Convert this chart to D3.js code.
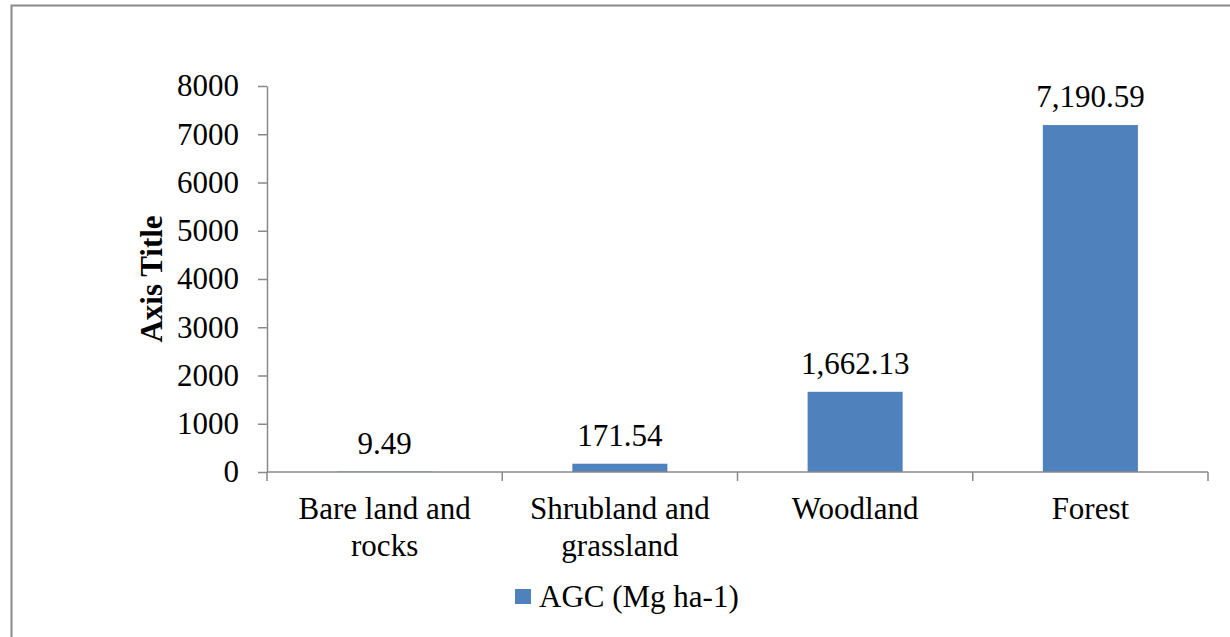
<!DOCTYPE html>
<html>
<head>
<meta charset="utf-8">
<script src="https://cdn.jsdelivr.net/npm/d3@7"></script>
<style>
    body { margin: 0; background: #fff; }
    svg text { font-family: "Liberation Serif", "Times New Roman", serif; fill: #000; }
</style>
</head>
<body>
<svg id="chart"></svg>
<script>
// chart data
const categories = [['Bare land and', 'rocks'], ['Shrubland and', 'grassland'], ['Woodland'], ['Forest']];
const agcValues = [9.49, 171.54, 1662.13, 7190.59];
const valueLabels = ['9.49', '171.54', '1,662.13', '7,190.59'];
const yTicks = [0, 1000, 2000, 3000, 4000, 5000, 6000, 7000, 8000];
const seriesName = 'AGC (Mg ha-1)';

const width = 1230, height = 637;
const margin = { top: 86, right: 22, bottom: 165, left: 267 };
const axisColor = '#898989';
const barColor = '#4f81bd';

const svg = d3.select('#chart')
    .attr('width', width)
    .attr('height', height);

// outer frame (runs off the page on right and bottom)
svg.append('rect')
    .attr('x', 11.5)
    .attr('y', 5.5)
    .attr('width', width + 20)
    .attr('height', height + 20)
    .attr('fill', 'none')
    .attr('stroke', axisColor)
    .attr('stroke-width', 2);

const xScale = d3.scaleBand()
    .domain(d3.range(categories.length))
    .range([margin.left, width - margin.right])
    .padding(0);

const yScale = d3.scaleLinear()
    .domain([0, 8000])
    .range([height - margin.bottom, margin.top]);

const y0 = yScale(0);

// y axis
const yAxis = d3.axisLeft(yScale)
    .tickValues(yTicks)
    .tickFormat(d3.format('d'))
    .tickSize(9)
    .tickPadding(19)
    .tickSizeOuter(0);

const yAxisGroup = svg.append('g')
    .attr('transform', `translate(${margin.left},0)`)
    .call(yAxis);
yAxisGroup.select('.domain').attr('stroke', axisColor).attr('stroke-width', 1.5);
yAxisGroup.selectAll('.tick line').attr('stroke', axisColor).attr('stroke-width', 1.5);
yAxisGroup.selectAll('.tick text')
    .attr('font-size', 31)
    .attr('font-family', '"Liberation Serif", serif')
    .attr('fill', '#000');

// bars
const barWidth = xScale.bandwidth() * 0.404;
svg.selectAll('rect.bar')
    .data(agcValues)
    .enter()
    .append('rect')
    .attr('class', 'bar')
    .attr('x', (d, i) => xScale(i) + xScale.bandwidth() / 2 - barWidth / 2)
    .attr('y', d => yScale(d))
    .attr('width', barWidth)
    .attr('height', d => y0 - yScale(d))
    .attr('fill', barColor);

// x axis line and category ticks (at band edges)
svg.append('line')
    .attr('x1', xScale.range()[0])
    .attr('x2', xScale.range()[1])
    .attr('y1', y0)
    .attr('y2', y0)
    .attr('stroke', axisColor)
    .attr('stroke-width', 1.5);

const edges = d3.range(categories.length).map(i => xScale(i)).concat([xScale.range()[1]]);
svg.selectAll('line.xtick')
    .data(edges)
    .enter()
    .append('line')
    .attr('class', 'xtick')
    .attr('x1', d => d)
    .attr('x2', d => d)
    .attr('y1', y0)
    .attr('y2', y0 + 9)
    .attr('stroke', axisColor)
    .attr('stroke-width', 1.5);

// category labels
const catText = svg.selectAll('text.cat')
    .data(categories)
    .enter()
    .append('text')
    .attr('class', 'cat')
    .attr('text-anchor', 'middle')
    .attr('font-size', 31)
    .attr('x', (d, i) => xScale(i) + xScale.bandwidth() / 2)
    .attr('y', y0 + 47);
catText.selectAll('tspan')
    .data((d, i) => d.map(line => ({ line, i })))
    .enter()
    .append('tspan')
    .attr('x', d => xScale(d.i) + xScale.bandwidth() / 2)
    .attr('dy', (d, j) => j === 0 ? 0 : 37)
    .text(d => d.line);

// value labels
svg.selectAll('text.value')
    .data(agcValues)
    .enter()
    .append('text')
    .attr('class', 'value')
    .attr('text-anchor', 'middle')
    .attr('font-size', 31)
    .attr('x', (d, i) => xScale(i) + xScale.bandwidth() / 2)
    .attr('y', d => yScale(d) - 18)
    .text((d, i) => valueLabels[i]);

// y axis title
svg.append('text')
    .attr('transform', `translate(162, ${(yScale(0) + yScale(8000)) / 2}) rotate(-90)`)
    .attr('text-anchor', 'middle')
    .attr('font-size', 31)
    .attr('font-weight', 'bold')
    .text('Axis Title');

// legend
const legend = svg.append('g').attr('transform', 'translate(515, 589)');
legend.append('rect')
    .attr('width', 16)
    .attr('height', 15)
    .attr('fill', barColor);
legend.append('text')
    .attr('x', 24)
    .attr('y', 18)
    .attr('font-size', 31)
    .text(seriesName);
</script>
</body>
</html>
